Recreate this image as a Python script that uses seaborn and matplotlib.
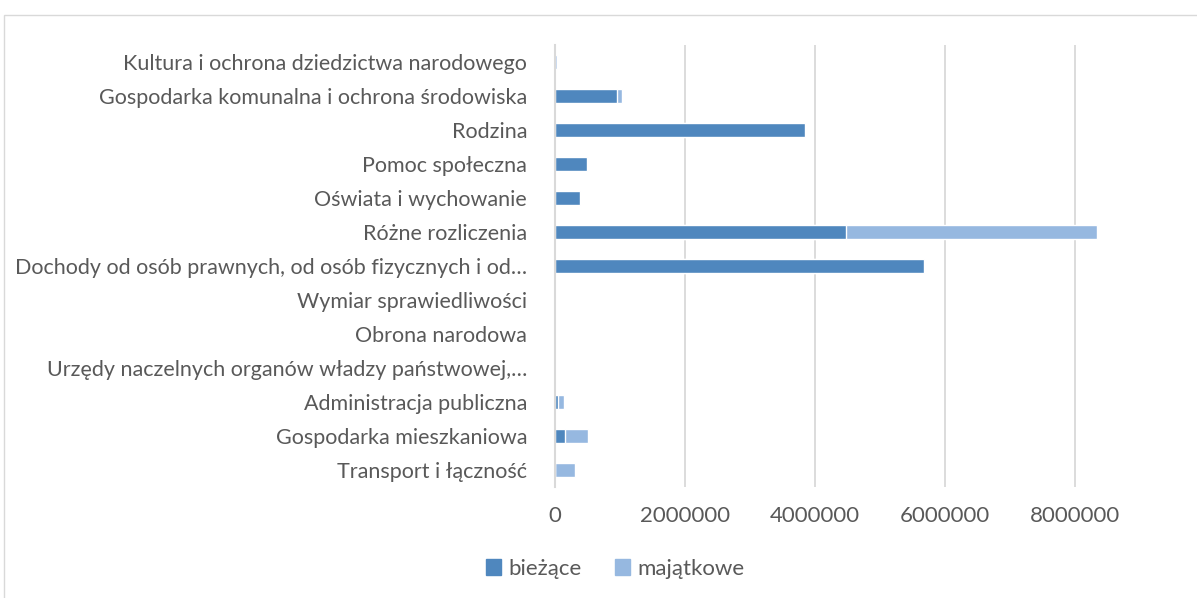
import numpy as np
import pandas as pd
import matplotlib
matplotlib.use("Agg")
import matplotlib.pyplot as plt
import matplotlib.patches as mpatches
import seaborn as sns

# categories, top to bottom as in the chart
kategorie = [
    "Kultura i ochrona dziedzictwa narodowego",
    "Gospodarka komunalna i ochrona środowiska",
    "Rodzina",
    "Pomoc społeczna",
    "Oświata i wychowanie",
    "Różne rozliczenia",
    "Dochody od osób prawnych, od osób fizycznych i od…",
    "Wymiar sprawiedliwości",
    "Obrona narodowa",
    "Urzędy naczelnych organów władzy państwowej,…",
    "Administracja publiczna",
    "Gospodarka mieszkaniowa",
    "Transport i łączność",
]
biezace = [0, 960000, 3846000, 492000, 385000, 4477000, 5682000, 0, 0, 0, 46000, 155000, 0]
majatkowe = [25000, 72000, 0, 10000, 0, 3857000, 0, 0, 0, 0, 97000, 350000, 303000]

ticks = [0, 2000000, 4000000, 6000000, 8000000]

c_dark = "#4f87be"
c_light = "#96b8e0"
c_text = "#595959"
c_grid = "#d9d9d9"

df = pd.DataFrame({"kategoria": kategorie, "biezace": biezace, "majatkowe": majatkowe})
df["razem"] = df["biezace"] + df["majatkowe"]

sns.set_theme(style="white")
plt.rcParams["font.family"] = ["Lato", "DejaVu Sans"]

W, H = 1197, 598
fig = plt.figure(figsize=(W / 100, H / 100), dpi=100)

# chart border (cropped on right and bottom)
fig.patches.append(mpatches.Rectangle((4 / W, -0.1), 1.2, 1.1 - 15 / H,
                                      transform=fig.transFigure, fill=False,
                                      edgecolor=c_grid, linewidth=1))

ax = fig.add_axes([555 / W, 1 - 487 / H, (W - 555) / W, 442 / H])

# stacked bars: total in light colour, current part on top in dark
sns.barplot(data=df, x="razem", y="kategoria", orient="h", color=c_light,
            width=0.4, saturation=1, ax=ax)
sns.barplot(data=df, x="biezace", y="kategoria", orient="h", color=c_dark,
            width=0.4, saturation=1, ax=ax)

ax.set_xlim(0, (W - 555) / 65 * 1e6)
ax.set_xticks(ticks)
ax.set_xticklabels([str(t) for t in ticks])
ax.grid(axis="x", color=c_grid, linewidth=1.3)
ax.set_axisbelow(True)
for s in ["top", "right", "bottom"]:
    ax.spines[s].set_visible(False)
ax.spines["left"].set_color(c_grid)
ax.spines["left"].set_linewidth(1.5)
ax.set_xlabel("")
ax.set_ylabel("")
ax.tick_params(axis="x", length=0, pad=14, labelsize=16, labelcolor=c_text)
ax.tick_params(axis="y", length=0, pad=20, labelsize=15.5, labelcolor=c_text)

handles = [mpatches.Patch(color=c_dark, label="bieżące"),
           mpatches.Patch(color=c_light, label="majątkowe")]
fig.legend(handles=handles, loc="center", bbox_to_anchor=(615 / W, 1 - 569 / H),
           ncol=2, frameon=False, fontsize=16, labelcolor=c_text,
           handlelength=0.7, handleheight=0.7, handletextpad=0.3, columnspacing=1.5)

fig.savefig("out.png", dpi=100)
